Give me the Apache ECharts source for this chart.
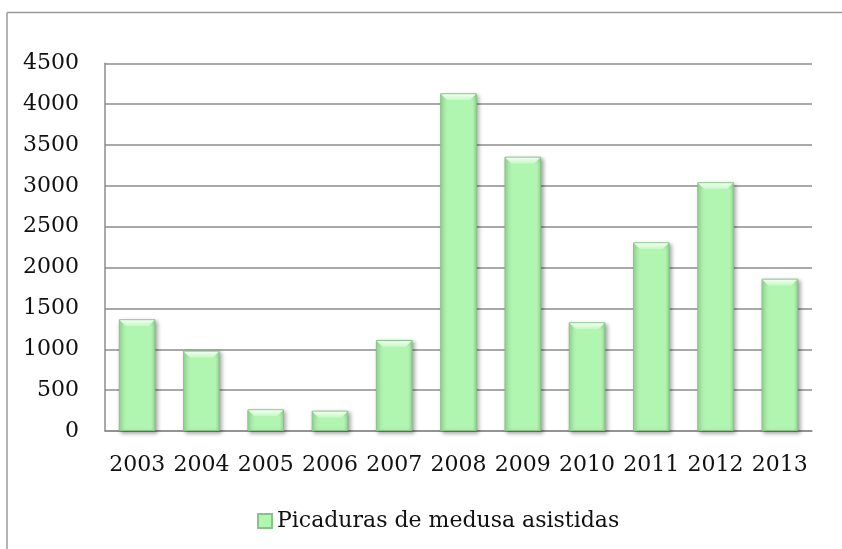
<!DOCTYPE html>
<html>
<head>
<meta charset="utf-8">
<script src="https://cdn.jsdelivr.net/npm/echarts@6/dist/echarts.min.js"></script>
<style>
  html, body { margin: 0; padding: 0; background: #ffffff; overflow: hidden; }
  #chart { width: 842px; height: 549px; }
</style>
</head>
<body>
<div id="chart"></div>
<script>
// Jellyfish stings attended per year
var years = ['2003', '2004', '2005', '2006', '2007', '2008', '2009', '2010', '2011', '2012', '2013'];
var stings = [1367, 983, 265, 249, 1114, 4133, 3357, 1330, 2309, 3044, 1864];
var seriesName = 'Picaduras de medusa asistidas';

var FONT = 'DejaVu Serif';
var chart = echarts.init(document.getElementById('chart'), null, { renderer: 'canvas' });

var barFill = new echarts.graphic.LinearGradient(0, 0, 1, 0, [
  { offset: 0, color: '#96da96' },
  { offset: 0.12, color: '#b0f5b0' },
  { offset: 0.88, color: '#b0f5b0' },
  { offset: 1, color: '#96da96' }
]);

chart.setOption({
  animation: false,
  backgroundColor: '#ffffff',
  graphic: [{
    // chart frame: left and top edges only
    type: 'line',
    shape: { x1: 7, y1: 12.5, x2: 7, y2: 560 },
    style: { stroke: '#9a9a9a', lineWidth: 1.5 },
    silent: true
  }, {
    type: 'line',
    shape: { x1: 7, y1: 12.5, x2: 842, y2: 12.5 },
    style: { stroke: '#9a9a9a', lineWidth: 1.5 },
    silent: true
  }],
  grid: { left: 105, right: 30, top: 63.3, bottom: 118 },
  legend: {
    data: [seriesName],
    left: 252,
    top: 505,
    itemWidth: 14,
    itemHeight: 14,
    itemGap: 5,
    icon: 'rect',
    textStyle: { fontFamily: FONT, fontSize: 22, color: '#111111' }
  },
  xAxis: {
    type: 'category',
    data: years,
    axisLine: { lineStyle: { color: '#8c8c8c', width: 1.5 } },
    axisTick: { show: false },
    axisLabel: { fontFamily: FONT, fontSize: 22, color: '#111111', margin: 23, interval: 0 }
  },
  yAxis: {
    type: 'value',
    min: 0,
    max: 4500,
    interval: 500,
    axisLine: { show: true, lineStyle: { color: '#8c8c8c', width: 1.5 } },
    axisTick: { show: false },
    splitLine: { lineStyle: { color: '#8c8c8c', width: 1.5 } },
    axisLabel: {
      fontFamily: FONT, fontSize: 22, color: '#111111', margin: 26,
      formatter: function (v) { return String(v); }
    }
  },
  series: [{
    name: seriesName,
    type: 'bar',
    data: stings,
    barWidth: '57%',
    itemStyle: {
      color: barFill,
      borderColor: '#88c488',
      borderWidth: 1,
      shadowColor: 'rgba(0,0,0,0.35)',
      shadowBlur: 4,
      shadowOffsetX: 2,
      shadowOffsetY: 2
    }
  }, {
    // light bevel along the top of each bar
    type: 'custom',
    silent: true,
    data: stings.map(function (v, i) { return [i, v]; }),
    renderItem: function (params, api) {
      var top = api.coord([api.value(0), api.value(1)]);
      var w = api.size([1, 0])[0] * 0.57;
      var x0 = top[0] - w / 2, x1 = top[0] + w / 2, y = top[1];
      var d = 7;
      return {
        type: 'polygon',
        shape: { points: [[x0 + 1, y + 1], [x1 - 1, y + 1], [x1 - d, y + d], [x0 + d, y + d]] },
        style: {
          fill: new echarts.graphic.LinearGradient(0, 0, 0, 1, [
            { offset: 0, color: '#f0fff0' },
            { offset: 1, color: '#c4f8c4' }
          ])
        }
      };
    },
    z: 3
  }]
});
</script>
</body>
</html>
